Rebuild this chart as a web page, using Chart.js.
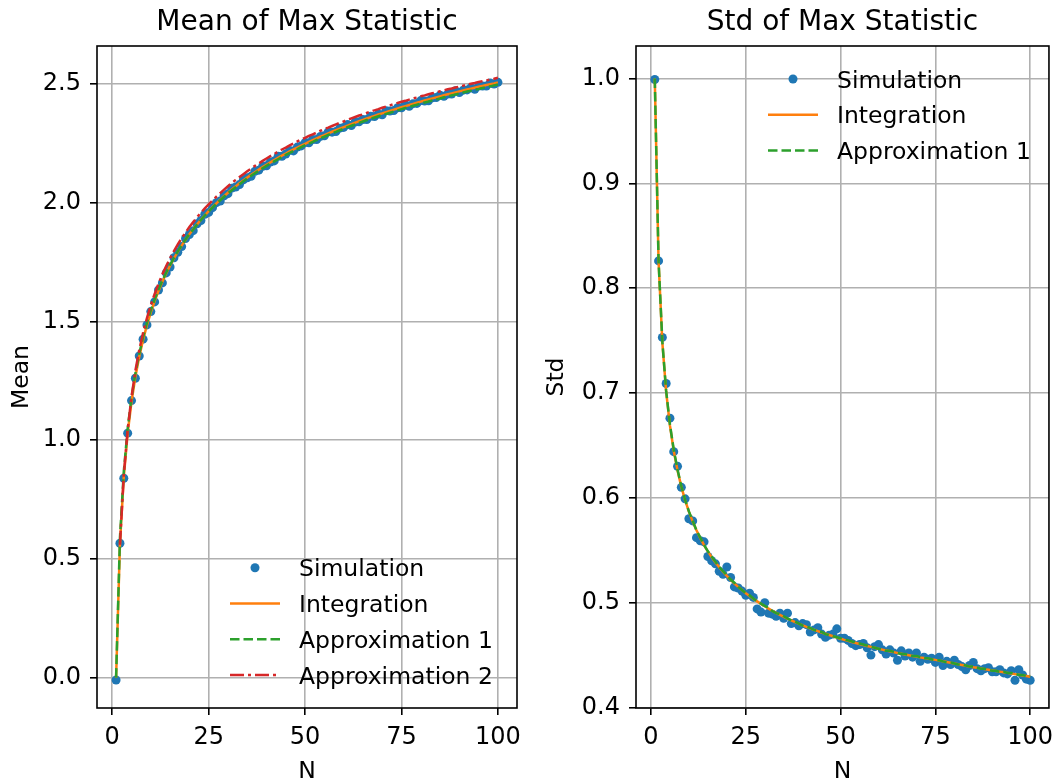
<!DOCTYPE html>
<html><head><meta charset="utf-8">
<script src="https://cdn.jsdelivr.net/npm/chart.js@4.4.0/dist/chart.umd.min.js"></script>
<style>
html,body{margin:0;padding:0;background:#fff;}
#wrap{position:relative;width:1062px;height:782px;overflow:hidden;}
canvas{position:absolute;top:0;}
</style></head><body>
<div id="wrap">
<canvas id="left" width="531" height="782" style="left:0px"></canvas>
<canvas id="right" width="531" height="782" style="left:531px"></canvas>
</div>
<script>
// ---------- DATA ----------
const N = [1,2,3,4,5,6,7,8,9,10,11,12,13,14,15,16,17,18,19,20,21,22,23,24,25,26,27,28,29,30,31,32,33,34,35,36,37,38,39,40,41,42,43,44,45,46,47,48,49,50,51,52,53,54,55,56,57,58,59,60,61,62,63,64,65,66,67,68,69,70,71,72,73,74,75,76,77,78,79,80,81,82,83,84,85,86,87,88,89,90,91,92,93,94,95,96,97,98,99,100];

const xTicks = [0, 25, 50, 75, 100];
const meanTicks = [0.0, 0.5, 1.0, 1.5, 2.0, 2.5];
const stdTicks = [0.4, 0.5, 0.6, 0.7, 0.8, 0.9, 1.0];

// Mean of max
const meanSim = [-0.010,0.566,0.840,1.030,1.167,1.261,1.355,1.426,1.486,1.542,1.583,1.633,1.663,1.705,1.730,1.769,1.792,1.816,1.850,1.867,1.883,1.912,1.926,1.952,1.960,1.980,2.001,2.008,2.030,2.039,2.062,2.067,2.077,2.097,2.106,2.112,2.133,2.138,2.154,2.156,2.172,2.177,2.196,2.196,2.206,2.221,2.219,2.235,2.240,2.254,2.253,2.267,2.267,2.280,2.283,2.299,2.298,2.301,2.315,2.318,2.330,2.326,2.341,2.342,2.351,2.351,2.365,2.364,2.374,2.371,2.388,2.387,2.389,2.401,2.401,2.414,2.407,2.418,2.419,2.431,2.429,2.430,2.443,2.444,2.454,2.449,2.459,2.459,2.472,2.465,2.475,2.476,2.485,2.479,2.492,2.492,2.492,2.505,2.501,2.508];
const meanInt = [0.0000,0.5642,0.8463,1.0294,1.1630,1.2672,1.3522,1.4236,1.4850,1.5388,1.5864,1.6292,1.6680,1.7034,1.7359,1.7660,1.7939,1.8200,1.8445,1.8675,1.8892,1.9097,1.9292,1.9477,1.9653,1.9822,1.9983,2.0137,2.0285,2.0428,2.0565,2.0697,2.0824,2.0947,2.1066,2.1181,2.1292,2.1400,2.1505,2.1608,2.1708,2.1805,2.1899,2.1991,2.2080,2.2167,2.2252,2.2334,2.2414,2.2491,2.2567,2.2642,2.2716,2.2788,2.2859,2.2929,2.2997,2.3064,2.3129,2.3193,2.3256,2.3318,2.3379,2.3439,2.3498,2.3556,2.3613,2.3669,2.3722,2.3774,2.3826,2.3877,2.3928,2.3978,2.4027,2.4076,2.4124,2.4172,2.4220,2.4268,2.4313,2.4358,2.4402,2.4446,2.4489,2.4532,2.4574,2.4615,2.4656,2.4697,2.4736,2.4775,2.4814,2.4852,2.4890,2.4927,2.4964,2.5000,2.5036,2.5076];
const meanApprox1 = [0.000,0.589,0.869,1.049,1.180,1.281,1.364,1.434,1.494,1.547,1.593,1.635,1.673,1.707,1.739,1.768,1.796,1.821,1.846,1.868,1.888,1.909,1.928,1.947,1.964,1.980,1.996,2.011,2.026,2.040,2.053,2.066,2.078,2.091,2.103,2.114,2.125,2.136,2.146,2.156,2.166,2.175,2.184,2.193,2.202,2.211,2.219,2.227,2.235,2.243,2.250,2.257,2.265,2.272,2.279,2.286,2.293,2.299,2.306,2.312,2.319,2.325,2.331,2.337,2.343,2.349,2.354,2.360,2.365,2.370,2.375,2.380,2.385,2.390,2.395,2.400,2.404,2.409,2.414,2.419,2.423,2.427,2.432,2.436,2.440,2.445,2.449,2.453,2.457,2.461,2.465,2.469,2.473,2.477,2.480,2.484,2.488,2.491,2.495,2.499];
const meanApprox2 = [null,0.560,0.855,1.044,1.183,1.293,1.380,1.453,1.515,1.569,1.617,1.660,1.699,1.734,1.767,1.797,1.825,1.851,1.875,1.898,1.919,1.940,1.959,1.977,1.994,2.010,2.026,2.041,2.056,2.070,2.084,2.097,2.109,2.121,2.133,2.145,2.156,2.166,2.177,2.187,2.197,2.206,2.216,2.225,2.233,2.242,2.250,2.259,2.267,2.274,2.282,2.289,2.296,2.304,2.311,2.317,2.324,2.331,2.337,2.343,2.350,2.356,2.362,2.368,2.373,2.379,2.385,2.390,2.395,2.401,2.406,2.411,2.416,2.421,2.426,2.430,2.435,2.440,2.444,2.449,2.453,2.458,2.462,2.466,2.470,2.474,2.479,2.482,2.486,2.490,2.494,2.498,2.502,2.505,2.509,2.513,2.516,2.520,2.523,2.527];

// Std of max
const stdSim = [0.999,0.826,0.753,0.709,0.676,0.644,0.630,0.610,0.599,0.580,0.578,0.562,0.559,0.558,0.544,0.540,0.537,0.530,0.527,0.534,0.524,0.515,0.514,0.511,0.507,0.509,0.505,0.494,0.491,0.500,0.490,0.489,0.487,0.490,0.485,0.490,0.480,0.481,0.478,0.480,0.479,0.472,0.474,0.476,0.470,0.467,0.469,0.470,0.475,0.466,0.466,0.464,0.461,0.459,0.460,0.461,0.457,0.450,0.458,0.460,0.455,0.451,0.455,0.452,0.445,0.454,0.449,0.452,0.448,0.452,0.444,0.448,0.446,0.447,0.443,0.448,0.440,0.444,0.441,0.445,0.441,0.439,0.436,0.440,0.443,0.437,0.435,0.437,0.438,0.434,0.434,0.436,0.433,0.432,0.435,0.426,0.436,0.431,0.427,0.426];
const stdInt = [1.0000,0.8256,0.7480,0.7012,0.6690,0.6449,0.6260,0.6107,0.5978,0.5868,0.5773,0.5690,0.5616,0.5549,0.5489,0.5434,0.5384,0.5338,0.5295,0.5255,0.5218,0.5183,0.5151,0.5120,0.5090,0.5063,0.5037,0.5012,0.4988,0.4965,0.4943,0.4922,0.4902,0.4883,0.4865,0.4848,0.4831,0.4815,0.4799,0.4784,0.4769,0.4755,0.4741,0.4728,0.4715,0.4703,0.4691,0.4679,0.4667,0.4656,0.4645,0.4635,0.4625,0.4615,0.4605,0.4596,0.4587,0.4578,0.4569,0.4560,0.4552,0.4544,0.4536,0.4528,0.4520,0.4513,0.4506,0.4499,0.4492,0.4485,0.4478,0.4472,0.4466,0.4460,0.4454,0.4447,0.4440,0.4433,0.4426,0.4419,0.4412,0.4405,0.4398,0.4391,0.4384,0.4378,0.4372,0.4366,0.4360,0.4354,0.4348,0.4342,0.4336,0.4330,0.4324,0.4318,0.4312,0.4306,0.4300,0.4294];
const stdApprox1 = [1.000,0.826,0.749,0.702,0.670,0.646,0.627,0.611,0.598,0.587,0.578,0.569,0.562,0.555,0.549,0.544,0.539,0.534,0.530,0.526,0.522,0.519,0.515,0.512,0.509,0.507,0.504,0.501,0.499,0.497,0.495,0.492,0.490,0.489,0.487,0.485,0.483,0.482,0.480,0.478,0.477,0.476,0.474,0.473,0.472,0.470,0.469,0.468,0.467,0.466,0.465,0.464,0.463,0.462,0.461,0.460,0.459,0.458,0.457,0.456,0.455,0.454,0.454,0.453,0.452,0.451,0.451,0.450,0.449,0.449,0.448,0.447,0.447,0.446,0.445,0.445,0.444,0.443,0.443,0.442,0.441,0.441,0.440,0.439,0.439,0.438,0.437,0.437,0.436,0.435,0.435,0.434,0.434,0.433,0.433,0.432,0.431,0.431,0.430,0.430];

// ---------- HELPERS ----------
const BLUE = '#1f77b4', ORANGE = '#ff7f0e', GREEN = '#2ca02c', RED = '#d62728';
const FONT = '"DejaVu Sans", "Liberation Sans", sans-serif';
const TICK_SIZE = 24, LABEL_SIZE = 23.5, LEGEND_SIZE = 23.5, TITLE_SIZE = 28;
Chart.defaults.font.family = FONT;
Chart.defaults.color = '#000';

const pts = arr => N.map((n, i) => ({x: n, y: arr[i]}));

function simSet(arr) {
  return {label: 'Simulation', data: pts(arr), showLine: false, pointRadius: 4.5, pointHoverRadius: 4.5,
    pointBackgroundColor: BLUE, pointBorderWidth: 0, borderColor: BLUE, order: 4};
}
function lineSet(label, arr, color, dash, order) {
  return {label, data: pts(arr), showLine: true, borderColor: color, borderWidth: 2.5, borderDash: dash,
    pointRadius: 0, pointHoverRadius: 0, tension: 0, spanGaps: false, fill: false, order};
}

function decor(title, legend) {
  return {
    id: 'decor',
    afterDraw(chart) {
      const {ctx, chartArea: a} = chart;
      ctx.save();
      ctx.strokeStyle = '#000';
      ctx.lineWidth = 1.6;
      ctx.setLineDash([]);
      ctx.strokeRect(a.left, a.top, a.right - a.left, a.bottom - a.top);
      ctx.fillStyle = '#000';
      ctx.font = TITLE_SIZE + 'px ' + FONT;
      ctx.textAlign = 'center';
      ctx.textBaseline = 'alphabetic';
      ctx.fillText(title, (a.left + a.right) / 2, a.top - 16);
      // legend
      ctx.font = LEGEND_SIZE + 'px ' + FONT;
      ctx.textAlign = 'left';
      const x0 = a.left + legend.dx;
      let y = legend.fromBottom ? a.bottom - legend.dy : a.top + legend.dy;
      chart.data.datasets.forEach(ds => {
        if (ds.showLine === false) {
          ctx.fillStyle = ds.pointBackgroundColor;
          ctx.beginPath();
          ctx.arc(x0 + 25, y, 4.5, 0, Math.PI * 2);
          ctx.fill();
        } else {
          ctx.strokeStyle = ds.borderColor;
          ctx.lineWidth = ds.borderWidth;
          ctx.setLineDash(ds.borderDash || []);
          ctx.beginPath();
          ctx.moveTo(x0, y);
          ctx.lineTo(x0 + 50, y);
          ctx.stroke();
          ctx.setLineDash([]);
        }
        ctx.fillStyle = '#000';
        ctx.fillText(ds.label, x0 + 69, y + 8.5);
        y += 35.8;
      });
      ctx.restore();
    }
  };
}

function axisCommon(ticksArr, fmt, pad) {
  return {
    type: 'linear',
    afterBuildTicks: s => { s.ticks = ticksArr.map(v => ({value: v})); },
    grid: {color: '#b0b0b0', lineWidth: 1.6, drawTicks: true, tickLength: 7, tickColor: '#000', tickWidth: 1.6},
    border: {display: false},
    ticks: {color: '#000', font: {size: TICK_SIZE}, padding: pad, maxRotation: 0, autoSkip: false, callback: fmt}
  };
}

function makeChart(id, datasets, opts) {
  const xAxis = Object.assign(axisCommon(xTicks, v => String(v), 8.5), {
    min: -3.95, max: 104.95,
    afterFit: s => { s.height = 74; },
    title: {display: true, text: 'N', color: '#000', font: {size: LABEL_SIZE, lineHeight: 0.85}, padding: {top: 0, bottom: 0}}
  });
  const yAxis = Object.assign(axisCommon(opts.yTicks, v => v.toFixed(1), 9), {
    min: opts.ymin, max: opts.ymax,
    afterFit: s => { s.width = opts.yWidth; },
    title: {display: true, text: opts.yLabel, color: '#000', font: {size: LABEL_SIZE, lineHeight: 1}, padding: {top: opts.yTitlePad, bottom: 0}}
  });
  return new Chart(document.getElementById(id), {
    type: 'scatter',
    data: {datasets},
    options: {
      responsive: false, animation: false, events: [],
      layout: {padding: {top: 46, right: opts.padRight, bottom: 0, left: 0}},
      plugins: {legend: {display: false}, tooltip: {enabled: false}, title: {display: false}},
      scales: {x: xAxis, y: yAxis}
    },
    plugins: [decor(opts.title, opts.legend)]
  });
}

makeChart('left', [
  simSet(meanSim),
  lineSet('Integration', meanInt, ORANGE, [], 3),
  lineSet('Approximation 1', meanApprox1, GREEN, [9.5, 4], 2),
  lineSet('Approximation 2', meanApprox2, RED, [14, 4, 3, 4], 1)
], {title: 'Mean of Max Statistic', yLabel: 'Mean', yTicks: meanTicks, ymin: -0.128, ymax: 2.661,
    yWidth: 97, yTitlePad: 10, padRight: 14, legend: {dx: 133, dy: 140.3, fromBottom: true}});

makeChart('right', [
  simSet(stdSim),
  lineSet('Integration', stdInt, ORANGE, [], 3),
  lineSet('Approximation 1', stdApprox1, GREEN, [9.5, 4], 2)
], {title: 'Std of Max Statistic', yLabel: 'Std', yTicks: stdTicks, ymin: 0.3995, ymax: 1.031,
    yWidth: 105, yTitlePad: 14, padRight: 9, legend: {dx: 132, dy: 33, fromBottom: false}});
</script>
</body></html>
